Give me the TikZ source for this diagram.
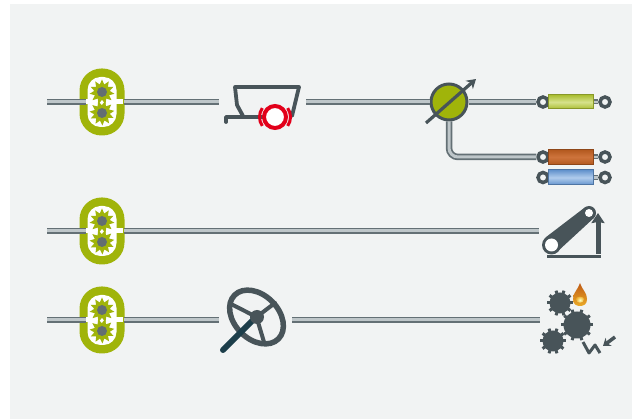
\documentclass[tikz,border=0pt]{standalone}
\usepackage{xcolor}
\usetikzlibrary{shapes.geometric,arrows.meta,positioning,calc}
\definecolor{panelgrey}{RGB}{241,243,243}
\definecolor{pipedark}{RGB}{100,112,117}
\definecolor{pipelight}{RGB}{190,198,201}
\definecolor{icongrey}{RGB}{72,84,89}
\definecolor{shafteal}{RGB}{28,62,74}
\definecolor{pumpgreen}{RGB}{160,180,10}
\definecolor{brakered}{RGB}{226,0,26}
\definecolor{cylgreen}{RGB}{170,190,50}
\definecolor{cylgreenlight}{RGB}{214,226,140}
\definecolor{cylbrown}{RGB}{178,88,30}
\definecolor{cylbrownlight}{RGB}{206,116,60}
\definecolor{cylblue}{RGB}{98,146,204}
\definecolor{cylbluelight}{RGB}{176,204,236}
\definecolor{dropbrown}{RGB}{190,90,20}
\definecolor{dropgold}{RGB}{235,170,40}
\tikzset{
  pipe/.style={line width=6.5pt, draw=pipedark, postaction={draw=pipelight, line width=3pt}},
  pumpbody/.style={rectangle, fill=pumpgreen, minimum width=45pt, minimum height=67pt, rounded corners=22pt, inner sep=0pt},
  pumpinner/.style={rectangle, fill=white, minimum width=29pt, minimum height=50pt, rounded corners=13pt, inner sep=0pt},
  pumpgear/.style={star, star points=11, star point ratio=1.6, fill=pumpgreen, minimum size=25pt, inner sep=0pt},
  pumphub/.style={circle, fill=icongrey!85, minimum size=10pt, inner sep=0pt},
  eye/.style={circle, draw=icongrey, line width=3.5pt, fill=panelgrey, minimum size=10pt, inner sep=0pt},
  rod/.style={line width=5pt, draw=pipedark, postaction={draw=pipelight, line width=2.5pt}},
  icon/.style={draw=icongrey, line width=3.8pt, line join=round, line cap=round},
  cogwheel/.style={circle, fill=icongrey, inner sep=0pt},
}
\newcommand{\gearpump}[3]{%
  \node[pumpbody] (#1) at (#2,#3) {};
  \node[pumpinner] (#1inner) at (#2,#3) {};
  \node[fill=white, minimum width=38pt, minimum height=5pt, inner sep=0pt] (#1slit) at (#2+2,#3) {};
  \node[pumpgear] (#1gearup) at (#2,#3-10) {};
  \node[pumpgear, rotate=18] (#1geardown) at (#2,#3+11) {};
  \node[pumphub] (#1hubup) at (#2,#3-10) {};
  \node[pumphub] (#1hubdown) at (#2,#3+11) {};
  \coordinate (#1in) at (#2-16,#3);
  \coordinate (#1out) at (#2+22,#3);
}
\newcommand{\cylinder}[5]{%
  \node[eye] (#1l) at (543,#2) {};
  \node[eye] (#1r) at (605,#2) {};
  \node[rectangle, draw=#3!80!black, line width=1pt, top color=#3, bottom color=#3, middle color=#4, minimum width=45pt, minimum height=#5, inner sep=0pt] (#1) at (571,#2) {};
  \draw[rod] (#1.east) -- (#1r.west);
}
\newcommand{\cogset}[4]{%
  \node[cogwheel, minimum size=#4] (#1) at (#2,#3) {};
  \foreach \a in {0,36,...,324} \draw[draw=icongrey, line width=3pt, shorten <=-1.5pt] (#1.\a) -- ++(\a:2.2pt);
}
\begin{document}
\begin{tikzpicture}[x=1pt,y=-1pt]
\useasboundingbox (0,0) rectangle (643,419);
\fill[panelgrey] (10,4) rectangle (632,419);
\gearpump{pumpa}{102}{102}
\gearpump{pumpb}{102}{231}
\gearpump{pumpc}{102}{320}
% first line
\coordinate (linea) at (47,102);
\coordinate (trailerin) at (219,102);
\coordinate (trailerout) at (306,102);
\draw[pipe] (linea) -- (pumpain);
\draw[pipe] (pumpaout) -- (trailerin);
\draw[icon] (226,122) -- (226,117) -- (262,117);
\draw[icon] (243,116) -- (237,105) -- (235,87) -- (299,87) -- (292,116);
\node[circle, draw=brakered, line width=4pt, fill=white, minimum size=22pt, inner sep=0pt] (brake) at (275,117) {};
\draw[brakered, line width=3pt] ([shift={(145:15.5pt)}]brake.center) arc[start angle=145, end angle=215, radius=15.5pt];
\draw[brakered, line width=3pt] ([shift={(-35:15.5pt)}]brake.center) arc[start angle=-35, end angle=35, radius=15.5pt];
\node[circle, draw=icongrey, line width=3pt, fill=pumpgreen, minimum size=36pt, inner sep=0pt] (valve) at (449,102) {};
\coordinate (valvefoot) at (426,123);
\coordinate (valvetip) at (476,79);
\draw[icon, line width=3.2pt, line cap=butt, -{Stealth[length=9pt,width=11pt]}] (valvefoot) -- (valvetip);
\draw[pipe] (trailerout) -- (valve.west);
\cylinder{cyla}{102}{cylgreen}{cylgreenlight}{14pt}
\cylinder{cylb}{157}{cylbrown}{cylbrownlight}{15pt}
\cylinder{cylc}{177.5}{cylblue}{cylbluelight}{15pt}
\draw[pipe] (valve.east) -- (cylal.west);
\draw[pipe, rounded corners=9pt] (valve.south) |- (cylbl.west);
% second line
\coordinate (lineb) at (47,231);
\coordinate (liftin) at (539,231);
\draw[pipe] (lineb) -- (pumpbin);
\draw[pipe] (pumpbout) -- (liftin);
\fill[icongrey] (545.6,237.4) -- (584.5,207.7) -- (593.5,218.3) -- (557.4,251.6) -- cycle;
\node[circle, fill=icongrey, minimum size=19pt, inner sep=0pt] (beltlow) at (551.5,245) {};
\node[circle, fill=icongrey, minimum size=14pt, inner sep=0pt] (belthigh) at (589,213) {};
\node[circle, fill=white, minimum size=13pt, inner sep=0pt] (holelow) at (551.5,245) {};
\node[circle, fill=white, minimum size=8pt, inner sep=0pt] (holehigh) at (589,213) {};
\draw[icon, line width=5pt, line cap=butt, -{Stealth[length=10pt,width=13pt,inset=1pt]}] (598,254) -- (598,213);
\draw[icon, line width=3pt, line cap=butt] (547,257) -- (601,257);
% third line
\coordinate (linec) at (47,320);
\coordinate (wheelin) at (219,320);
\coordinate (wheelout) at (292,320);
\coordinate (cogsin) at (540,320);
\draw[pipe] (linec) -- (pumpcin);
\draw[pipe] (pumpcout) -- (wheelin);
\draw[pipe] (wheelout) -- (cogsin);
\node[ellipse, draw=icongrey, line width=5.5pt, rotate=-45, minimum width=62pt, minimum height=44pt, inner sep=0pt] (wheel) at (256.5,317) {};
\draw[icon, line width=4pt] (wheel.center) -- (233,305);
\draw[icon, line width=4pt] (wheel.center) -- (275,303);
\draw[icon, line width=4pt] (wheel.center) -- (264,342);
\draw[shafteal, line width=6pt, line cap=round] (223,350) -- (253,320);
\node[circle, fill=icongrey, minimum size=14pt, inner sep=0pt] (wheelhub) at (257,317) {};
\cogset{cogup}{560}{303}{21pt}
\cogset{cogmid}{577}{325}{27pt}
\cogset{coglow}{553}{341}{21pt}
\shade[top color=dropbrown, bottom color=dropgold] (580,283) .. controls (577,291) and (573,293) .. (573,299) .. controls (573,304) and (576,306) .. (580,306) .. controls (584,306) and (587,304) .. (587,299) .. controls (587,293) and (583,291) .. (580,283) -- cycle;
\shade[inner color=yellow!25, outer color=dropgold] (576,299) .. controls (576,296) and (584,296) .. (584,299) .. controls (584,304) and (576,304) .. (576,299) -- cycle;
\draw[icon, line width=3pt, line cap=butt] (583,342) -- (589,353) -- (595,345) -- (600,353);
\draw[icon, line width=3.5pt, line cap=butt, -{Stealth[length=7pt,width=10pt]}] (615,337) -- (603,346);
\end{tikzpicture}
\end{document}
